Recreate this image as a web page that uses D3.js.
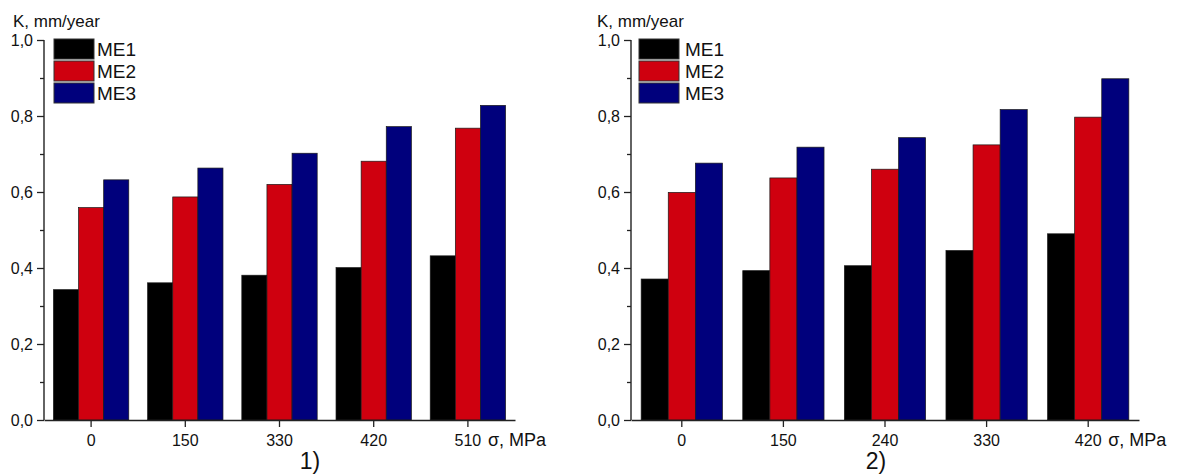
<!DOCTYPE html>
<html>
<head>
<meta charset="utf-8">
<script src="https://cdn.jsdelivr.net/npm/d3@7"></script>
<style>
  html, body { margin: 0; padding: 0; background: #ffffff; }
  svg { display: block; }
  text { font-family: "Liberation Sans", Arial, sans-serif; fill: #111; }
</style>
</head>
<body>
<svg id="chart" width="1178" height="475"></svg>
<script>
// ---------- data ----------
const seriesNames = ["ME1", "ME2", "ME3"];
const seriesColors = ["#000000", "#cf000f", "#00007c"];

const categories1 = ["0", "150", "330", "420", "510"];
const me1Panel1 = [0.343, 0.361, 0.381, 0.401, 0.432];
const me2Panel1 = [0.559, 0.587, 0.620, 0.681, 0.768];
const me3Panel1 = [0.632, 0.663, 0.702, 0.772, 0.828];

const categories2 = ["0", "150", "240", "330", "420"];
const me1Panel2 = [0.371, 0.393, 0.406, 0.446, 0.490];
const me2Panel2 = [0.599, 0.637, 0.660, 0.724, 0.797];
const me3Panel2 = [0.676, 0.718, 0.743, 0.817, 0.898];

const yMajorTicks = [0, 0.2, 0.4, 0.6, 0.8, 1.0];
const yMinorTicks = [0.1, 0.3, 0.5, 0.7, 0.9];
const yTitle = "K, mm/year";
const xTitle = "σ, MPa";
const panelLabels = ["1)", "2)"];

// ---------- drawing ----------
const svg = d3.select("#chart");

function drawPanel(opt) {
  const { cats, series, x0, x1, titleX, legendX, labelX, captionX, caption } = opt;
  const g = svg.append("g");

  const x = d3.scaleBand().domain(cats).range([x0, x1]).paddingInner(0.2).paddingOuter(0.1);
  const xs = d3.scaleBand().domain(seriesNames).range([0, x.bandwidth()]).padding(0);
  const y = d3.scaleLinear().domain([0, 1]).range([420, 40]);

  // bars
  seriesNames.forEach((name, si) => {
    g.append("g").selectAll("rect")
      .data(series[si])
      .join("rect")
      .attr("x", (d, i) => x(cats[i]) + xs(name))
      .attr("y", d => y(d))
      .attr("width", xs.bandwidth())
      .attr("height", d => y(0) - y(d))
      .attr("fill", seriesColors[si])
      .attr("stroke", "#1a1a1a")
      .attr("stroke-width", 0.7);
  });

  // y axis (major)
  const yAxis = d3.axisLeft(y).tickValues(yMajorTicks).tickSize(7).tickPadding(4)
    .tickFormat(d => d3.format(".1f")(d).replace(".", ","));
  const ya = g.append("g").attr("transform", `translate(${x0},0)`).call(yAxis);
  ya.select(".domain").attr("d", `M0,${y(1)}V${y(0)}`).attr("stroke", "#222").attr("stroke-width", 1.4);
  ya.selectAll(".tick line").attr("stroke", "#222").attr("stroke-width", 1.3);
  ya.selectAll(".tick text").attr("font-size", 16).attr("font-family", "Liberation Sans, Arial, sans-serif").attr("fill", "#111");

  // y axis (minor)
  const yMinor = d3.axisLeft(y).tickValues(yMinorTicks).tickSize(4).tickFormat("");
  const ym = g.append("g").attr("transform", `translate(${x0},0)`).call(yMinor);
  ym.select(".domain").remove();
  ym.selectAll(".tick line").attr("stroke", "#222").attr("stroke-width", 1.3);

  // x axis
  const xAxis = d3.axisBottom(x).tickSize(7).tickPadding(8).tickSizeOuter(0);
  const xa = g.append("g").attr("transform", `translate(0,${y(0)})`).call(xAxis);
  xa.select(".domain").attr("stroke", "#222").attr("stroke-width", 1.4);
  xa.selectAll(".tick line").attr("stroke", "#222").attr("stroke-width", 1.3);
  xa.selectAll(".tick text").attr("font-size", 16).attr("font-family", "Liberation Sans, Arial, sans-serif").attr("fill", "#111");

  // axis titles
  g.append("text").attr("x", titleX).attr("y", 27).attr("font-size", 17).text(yTitle);
  g.append("text")
    .attr("x", x(cats[cats.length - 1]) + x.bandwidth() / 2 + 20)
    .attr("y", 446).attr("font-size", 18).text(xTitle);

  // legend
  seriesNames.forEach((name, si) => {
    const ly = 39 + si * 22;
    g.append("rect").attr("x", legendX).attr("y", ly).attr("width", 40).attr("height", 20)
      .attr("fill", seriesColors[si]).attr("stroke", "#333").attr("stroke-width", 1);
    g.append("text").attr("x", labelX).attr("y", ly + 17).attr("font-size", 19).text(name);
  });

  // caption
  g.append("text").attr("x", captionX).attr("y", 469).attr("text-anchor", "middle")
    .attr("font-family", "Liberation Serif, Times New Roman, serif").attr("font-size", 23)
    .text(caption);
}

drawPanel({
  cats: categories1, series: [me1Panel1, me2Panel1, me3Panel1],
  x0: 44, x1: 515, titleX: 13, legendX: 54, labelX: 97, captionX: 310, caption: panelLabels[0]
});
drawPanel({
  cats: categories2, series: [me1Panel2, me2Panel2, me3Panel2],
  x0: 631, x1: 1139, titleX: 597, legendX: 639, labelX: 685, captionX: 876, caption: panelLabels[1]
});
</script>
</body>
</html>
